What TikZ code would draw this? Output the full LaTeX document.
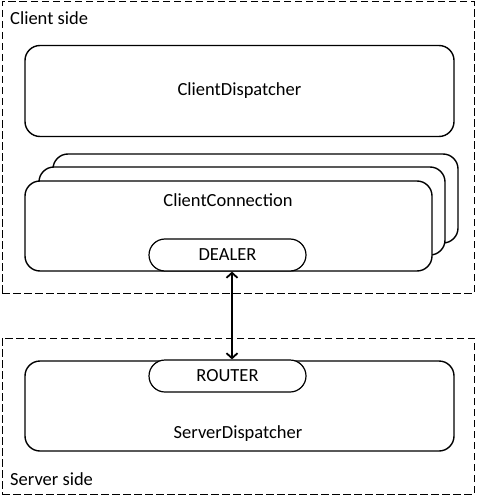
\documentclass[tikz,border=0pt]{standalone}
\usepackage{fontspec}
\setmainfont{Carlito}
\usetikzlibrary{positioning,shapes.misc,arrows.meta}
\tikzset{
  zone/.style   = {draw, line width=1pt, dash pattern=on 7.5pt off 3.5pt,
                   rectangle, inner sep=0pt},
  box/.style    = {draw, line width=1.4pt, rectangle, rounded corners=15pt,
                   fill=white, inner sep=0pt},
  sock/.style   = {draw, line width=1.2pt, rounded rectangle, fill=white,
                   minimum width=157pt, minimum height=32pt, inner sep=0pt},
  txt/.style    = {inner sep=0pt},
  link/.style   = {{Straight Barb[length=5pt,width=11pt]}-{Straight Barb[length=5pt,width=11pt]},
                   line width=1.8pt}
}

\begin{document}
\begin{tikzpicture}[x=1pt,y=-1pt,font=\fontsize{18.5}{20}\selectfont]
  \useasboundingbox (0,0) rectangle (477,497);
  % zones
  \node[zone, minimum width=472pt, minimum height=291pt] (client) at (238,147.5) {};
  \node[zone, minimum width=472pt, minimum height=156pt] (server) at (238,416) {};
  \node[txt, anchor=base west] (clientlbl) at (10,25) {Client side};
  \node[txt, anchor=base west] (serverlbl) at (10,485) {Server side};
  % client dispatcher
  \node[box, minimum width=429pt, minimum height=91pt] (cdisp) at (239.5,91) {ClientDispatcher};
  % stacked connections
  \node[box, minimum width=405pt, minimum height=89pt] (conn3) at (255.5,198.5) {};
  \node[box, minimum width=406pt, minimum height=88pt] (conn2) at (242,211) {};
  \node[box, minimum width=407pt, minimum height=90pt] (conn) at (228.5,226) {};
  \node[txt] (conntxt) at (228,200) {ClientConnection};
  \node[sock] (dealer) at (227.5,255) {DEALER};
  % server dispatcher
  \node[box, minimum width=429pt, minimum height=90pt] (sdisp) at (239.5,406) {};
  \node[txt] (sdisptxt) at (238,434) {ServerDispatcher};
  \node[sock] (router) at (227.5,376) {ROUTER};
  \draw[link] (dealer.south -| 232,0) -- (router.north -| 232,0);
\end{tikzpicture}
\end{document}
